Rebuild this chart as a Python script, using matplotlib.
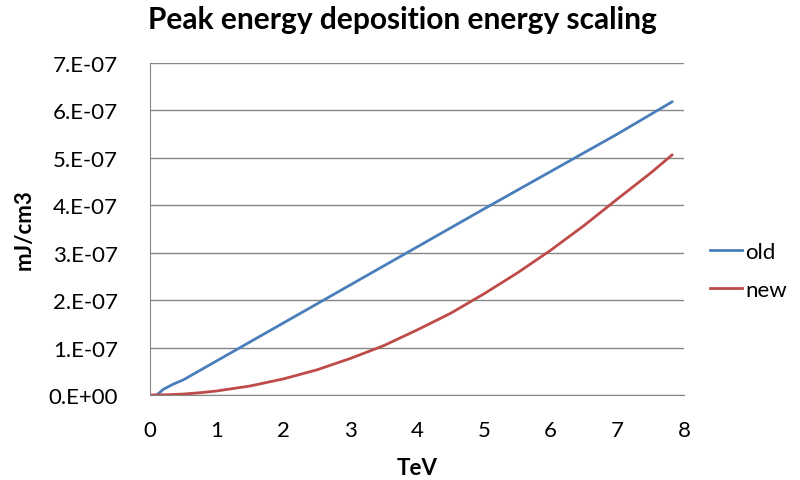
import matplotlib
matplotlib.use("Agg")
import matplotlib.pyplot as plt
from matplotlib.ticker import FuncFormatter

plt.rcParams['font.family'] = ['Lato', 'DejaVu Sans']

# values in units of 1e-7 mJ/cm3
old_tev = [0.1, 0.2, 0.35, 0.5, 0.7, 1, 1.35, 2, 3, 4, 5, 6, 7, 7.82]
old_val = [0.0, 0.12, 0.23, 0.32, 0.48, 0.72, 1.0, 1.52, 2.32, 3.12, 3.92, 4.71, 5.5, 6.18]
new_tev = [0, 0.25, 0.5, 0.75, 1, 1.5, 2, 2.5, 3, 3.5, 4, 4.5, 5, 5.5, 6, 6.5, 7, 7.5, 7.82]
new_val = [0.0, 0.005, 0.02, 0.048, 0.085, 0.19, 0.34, 0.53, 0.77, 1.04, 1.37, 1.72,
           2.13, 2.57, 3.05, 3.57, 4.13, 4.68, 5.06]

ytick_labels = ['0.E+00', '1.E-07', '2.E-07', '3.E-07', '4.E-07', '5.E-07', '6.E-07', '7.E-07']

fig = plt.figure(figsize=(8, 4.81), dpi=100)
ax = fig.add_axes([0.1875, 0.1767, 0.6675, 0.6903])

ax.plot(old_tev, [v * 1e-7 for v in old_val], color='#4a7ebb', lw=2, label='old')
ax.plot(new_tev, [v * 1e-7 for v in new_val], color='#be4b48', lw=2, label='new')

ax.set_xlim(0, 8)
ax.set_ylim(0, 7e-7)
ax.set_xticks(range(9))
ax.set_yticks([i * 1e-7 for i in range(8)])
ax.yaxis.set_major_formatter(FuncFormatter(lambda v, p: ytick_labels[int(round(v * 1e7))]))
ax.grid(axis='y', color='#868686', lw=1)
ax.set_axisbelow(True)
for s in ['top', 'right']:
    ax.spines[s].set_visible(False)
for s in ['left', 'bottom']:
    ax.spines[s].set_color('#868686')
ax.tick_params(length=0, labelsize=16, colors='black')
ax.tick_params(axis='y', pad=23)
ax.tick_params(axis='x', pad=18)

ax.set_xlabel('TeV', fontsize=16, fontweight='bold', labelpad=12)
ax.set_ylabel('mJ/cm3', fontsize=16, fontweight='bold', labelpad=10)
fig.text(402 / 800, 1 - 20 / 481, 'Peak energy deposition energy scaling',
         fontsize=21.5, fontweight='bold', ha='center', va='center')

ax.legend(loc='center left', bbox_to_anchor=(710 / 800, 1 - 272 / 481),
          bbox_transform=fig.transFigure, frameon=False, fontsize=16,
          borderpad=0, borderaxespad=0,
          handlelength=1.45, handletextpad=0.15, labelspacing=0.8)

fig.savefig('out.png', dpi=100)
